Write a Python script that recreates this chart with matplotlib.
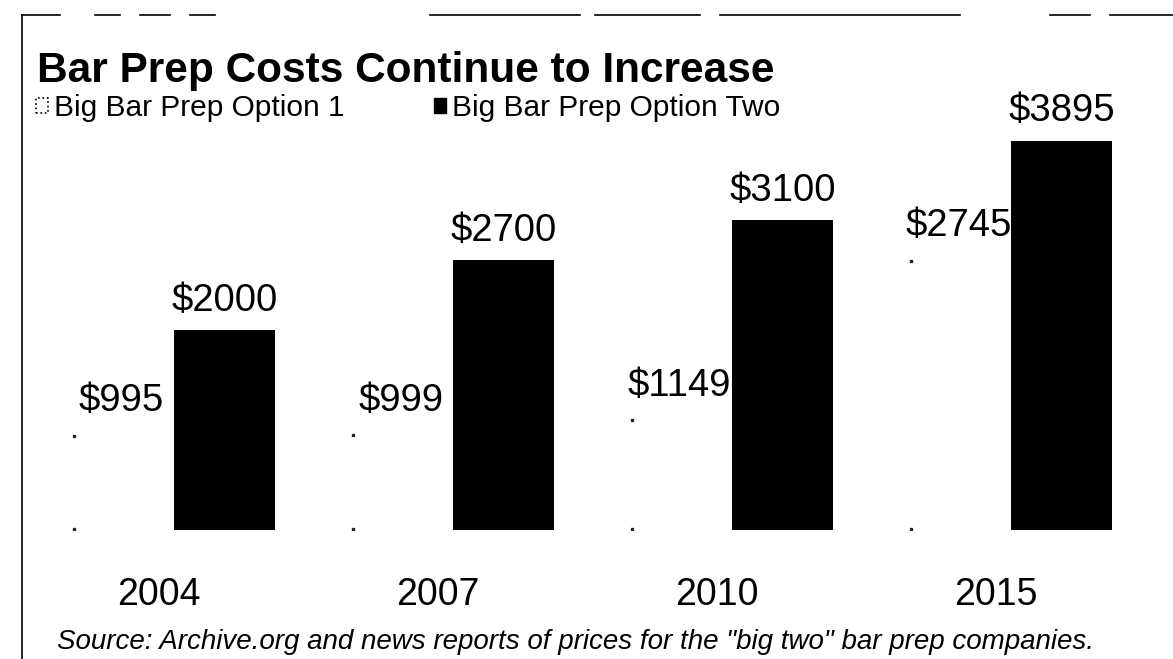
import matplotlib
matplotlib.use('Agg')
import matplotlib.pyplot as plt
import numpy as np
from matplotlib.lines import Line2D
from matplotlib.patches import Patch

years = ['2004', '2007', '2010', '2015']
option_one = [995, 999, 1149, 2745]
option_two = [2000, 2700, 3100, 3895]
series_names = ['Big Bar Prep Option 1', 'Big Bar Prep Option Two']

W, H = 1173, 659

plt.rcParams['font.family'] = ['Liberation Sans', 'DejaVu Sans']


def fx(px):
    return px / W


def fy(py):
    return 1 - py / H


fig = plt.figure(figsize=(W / 100, H / 100), dpi=100)

# chart area: baseline at y=530 px, 0.1 px per dollar
ax = fig.add_axes([0, fy(530), 1, 430 / H])
x = np.arange(len(years))
width = 0.362
gap = 0.003

ax.bar(x - width / 2 - gap, option_one, width, color='white', edgecolor='none')
ax.bar(x + width / 2 + gap, option_two, width, color='black')

# faint scan marks at the corners of the white bars
left_edges = x - width - gap
ax.plot(left_edges + 0.01, np.array(option_one) - 50, 's', color='#222222', markersize=2)
ax.plot(left_edges + 0.01, [15] * len(years), 's', color='#222222', markersize=2)

for xi, v in zip(x, option_one):
    ax.annotate(f'${v}', (xi - width / 2 - gap, v), xytext=(0, 21),
                textcoords='offset points', ha='center', va='center', fontsize=27.5)
for xi, v in zip(x, option_two):
    ax.annotate(f'${v}', (xi + width / 2 + gap, v), xytext=(0, 21),
                textcoords='offset points', ha='center', va='center', fontsize=27.5)

ax.set_xlim(-0.62, 3.584)
ax.set_ylim(0, 4300)
ax.set_xticks(x - 0.05, years, fontsize=27)
ax.tick_params(axis='x', length=0, pad=34)
ax.set_yticks([])
for s in ax.spines.values():
    s.set_visible(False)

fig.text(fx(37), fy(71), 'Bar Prep Costs Continue to Increase',
         fontsize=30.5, fontweight='bold', va='center', ha='left')

handles = [
    Patch(facecolor='white', edgecolor='black', linestyle=':', linewidth=1.2),
    Patch(facecolor='black', edgecolor='black'),
]
fig.legend(handles, series_names, loc='center left',
           bbox_to_anchor=(fx(36), fy(108)), ncol=2, frameon=False,
           fontsize=21.5, handlelength=0.4, handleheight=0.4,
           handletextpad=0.2, columnspacing=3.0, borderpad=0, borderaxespad=0)

fig.text(fx(57), fy(642),
         'Source: Archive.org and news reports of prices for the "big two" bar prep companies.',
         fontsize=20, style='italic', va='center', ha='left')

# scanned frame edges
fig.add_artist(Line2D([fx(22), fx(22)], [fy(15), fy(659)], color='black',
                      linewidth=1.2, transform=fig.transFigure))
top_segments = [(22, 60), (95, 120), (140, 170), (190, 215), (430, 580),
                (595, 700), (720, 960), (1050, 1090), (1110, 1173)]
for a, b in top_segments:
    fig.add_artist(Line2D([fx(a), fx(b)], [fy(15), fy(15)], color='black',
                          linewidth=1.2, transform=fig.transFigure))

fig.savefig('out.png', dpi=100)
